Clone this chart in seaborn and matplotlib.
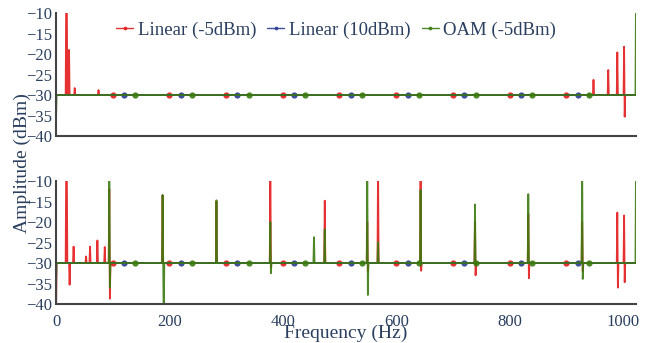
import numpy as np
import seaborn as sns
import matplotlib.pyplot as plt

# frequency bins of the spectrum (Hz)
freq = np.arange(0, 1024)
baseline = -30

# spikes: (frequency, amplitude dBm)
red_top = [(18, -5), (19, -5), (23, -19), (33, -28.3), (75, -28.8),
           (948, -26.3), (974, -23.9), (990, -19.6), (1002, -18.2), (1003, -35.3)]
blue_top = []
green_top = [(0, -36), (1023, -5)]

red_bottom = [(0, -45), (18, -5), (19, -5), (24, -35.3), (31, -26), (53, -28.4),
              (60, -26), (73, -24.5), (86, -26.1), (94, -12), (95, -38.7),
              (188, -13.5), (283, -15), (378, -5), (379, -31), (474, -14.8),
              (549, -20), (550, -32), (568, -5), (643, -5), (644, -31.9),
              (739, -20), (740, -33), (833, -18), (834, -33.7), (928, -20),
              (929, -32), (990, -17.7), (991, -36), (1002, -18.4), (1003, -34.7)]
blue_bottom = []
green_bottom = [(0, -36), (94, -5), (95, -36), (188, -13.4), (190, -45),
                (283, -14.7), (378, -20), (379, -32.5), (455, -23.7),
                (474, -21.8), (549, -5), (550, -37.8), (568, -24.9),
                (643, -12.2), (739, -15.7), (833, -13.2), (928, -5),
                (929, -33.9), (1023, -5)]

labels = ['Linear (-5dBm)', 'Linear (10dBm)', 'OAM (-5dBm)']
colors = ['#e41a1c', '#2c3b8f', '#3b7a0f']
marker_start = [100, 120, 140]
x_ticks = [0, 200, 400, 600, 800, 1000]
y_ticks = [-10, -15, -20, -25, -30, -35, -40]


def series(spikes):
    s = np.full(len(freq), float(baseline))
    for f, v in spikes:
        s[f] = v
    return s


sns.set_style('white')
plt.rcParams['font.family'] = ['Liberation Serif', 'DejaVu Serif']
txt = '#2a3f5f'

fig = plt.figure(figsize=(6.49, 3.43), dpi=100)
ax_top = fig.add_axes([0.0863, 0.6035, 0.8937, 0.3585])
ax_bot = fig.add_axes([0.0863, 0.1137, 0.8937, 0.3586])

panels = [(ax_top, [red_top, blue_top, green_top]),
          (ax_bot, [red_bottom, blue_bottom, green_bottom])]

for ax, spikes in panels:
    for sp, c, lab, m0 in zip(spikes, colors, labels, marker_start):
        sns.lineplot(x=freq, y=series(sp), ax=ax, color=c, lw=1.3, alpha=0.9,
                     estimator=None, sort=False, label=lab,
                     marker='o', markersize=4.5, markeredgewidth=0,
                     markevery=list(range(m0, 1000, 100)))
    ax.set_xlim(0, 1023)
    ax.set_ylim(-40, -10)
    ax.set_yticks(y_ticks)
    ax.set_yticklabels(['\u2212' + str(-v) for v in y_ticks])
    ax.set_xticks(x_ticks)
    ax.tick_params(length=0, labelsize=12, labelcolor=txt)
    ax.tick_params(axis='y', pad=3)
    ax.tick_params(axis='x', pad=7)
    for side in ['top', 'right']:
        ax.spines[side].set_visible(False)
    for side in ['left', 'bottom']:
        ax.spines[side].set_color('#444444')
        ax.spines[side].set_linewidth(1.5)
    ax.set_xlabel('')
    ax.set_ylabel('')
    ax.get_legend().remove()

ax_top.set_xticklabels([])

handles, labs = ax_top.get_legend_handles_labels()
leg = fig.legend(handles, labs, loc='center', bbox_to_anchor=(0.518, 0.912), ncol=3,
                 frameon=False, fontsize=13.5, labelcolor=txt, handlelength=0.9,
                 handletextpad=0.25, columnspacing=0.6, borderaxespad=0,
                 markerscale=0.6)
for h in leg.legend_handles:
    h.set_linewidth(1.0)

fig.text(0.034, 0.525, 'Amplitude (dBm)', rotation=90, ha='center', va='center',
         fontsize=14, color=txt)
fig.text(0.533, 0.029, 'Frequency (Hz)', ha='center', va='center',
         fontsize=14, color=txt)

fig.savefig('out.png', dpi=100)
